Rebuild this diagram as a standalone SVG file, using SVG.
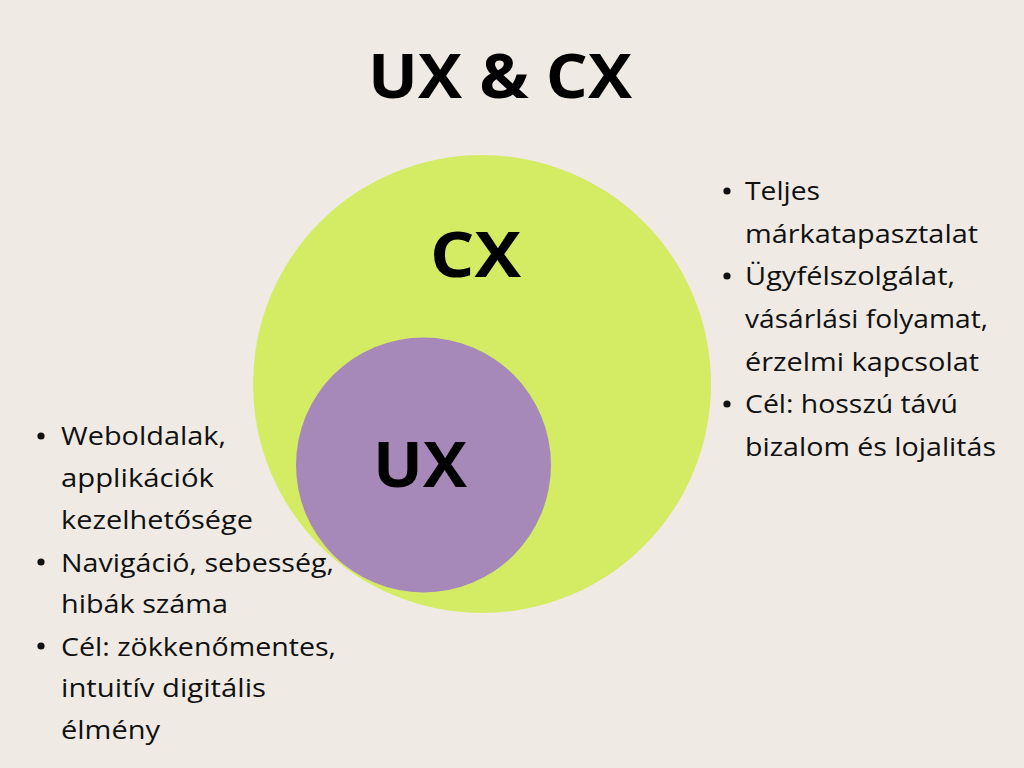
<svg xmlns="http://www.w3.org/2000/svg" width="1024" height="768" viewBox="0 0 1024 768">
<style>
.title{font-family:"Open Sans","Liberation Sans",sans-serif;font-weight:700;font-size:61px;fill:#000}
.lbl{font-family:"Open Sans","Liberation Sans",sans-serif;font-weight:700;font-size:62px;fill:#000}
.item{font-family:"Open Sans","Liberation Sans",sans-serif;font-size:25px;fill:#111}
.dot{fill:#111}
</style>
<rect width="1024" height="768" fill="#EFEBE4"/>
<text class="title" x="368" y="98" textLength="264" lengthAdjust="spacingAndGlyphs">UX &amp; CX</text>
<g id="cx">
<circle cx="482" cy="384" r="229" fill="#D4EB64"/>
<text class="lbl" x="430" y="277" textLength="91" lengthAdjust="spacingAndGlyphs">CX</text>
</g>
<g id="ux">
<circle cx="423.5" cy="465" r="127.5" fill="#A789B9"/>
<text class="lbl" x="373" y="487" textLength="94" lengthAdjust="spacingAndGlyphs">UX</text>
</g>
<g id="connectors"/>
<g id="ux-list">
<circle class="dot" cx="41" cy="436" r="3.6"/>
<circle class="dot" cx="41" cy="562" r="3.6"/>
<circle class="dot" cx="41" cy="646" r="3.6"/>
<text class="item" x="61" y="445" textLength="165" lengthAdjust="spacingAndGlyphs">Weboldalak,</text>
<text class="item" x="61" y="487" textLength="153" lengthAdjust="spacingAndGlyphs">applikációk</text>
<text class="item" x="61" y="529" textLength="192" lengthAdjust="spacingAndGlyphs">kezelhetősége</text>
<text class="item" x="61" y="571.5" textLength="273" lengthAdjust="spacingAndGlyphs">Navigáció, sebesség,</text>
<text class="item" x="61" y="613" textLength="167" lengthAdjust="spacingAndGlyphs">hibák száma</text>
<text class="item" x="61" y="655.5" textLength="275" lengthAdjust="spacingAndGlyphs">Cél: zökkenőmentes,</text>
<text class="item" x="61" y="697" textLength="205" lengthAdjust="spacingAndGlyphs">intuitív digitális</text>
<text class="item" x="61" y="739" textLength="99" lengthAdjust="spacingAndGlyphs">élmény</text>
</g>
<g id="cx-list">
<circle class="dot" cx="727" cy="191" r="3.6"/>
<circle class="dot" cx="727" cy="276" r="3.6"/>
<circle class="dot" cx="727" cy="404" r="3.6"/>
<text class="item" x="745" y="200" textLength="75" lengthAdjust="spacingAndGlyphs">Teljes</text>
<text class="item" x="745" y="242.5" textLength="233" lengthAdjust="spacingAndGlyphs">márkatapasztalat</text>
<text class="item" x="745" y="285" textLength="210" lengthAdjust="spacingAndGlyphs">Ügyfélszolgálat,</text>
<text class="item" x="745" y="328" textLength="243" lengthAdjust="spacingAndGlyphs">vásárlási folyamat,</text>
<text class="item" x="745" y="370.5" textLength="234" lengthAdjust="spacingAndGlyphs">érzelmi kapcsolat</text>
<text class="item" x="745" y="413" textLength="213" lengthAdjust="spacingAndGlyphs">Cél: hosszú távú</text>
<text class="item" x="745" y="456" textLength="251" lengthAdjust="spacingAndGlyphs">bizalom és lojalitás</text>
</g>
</svg>
